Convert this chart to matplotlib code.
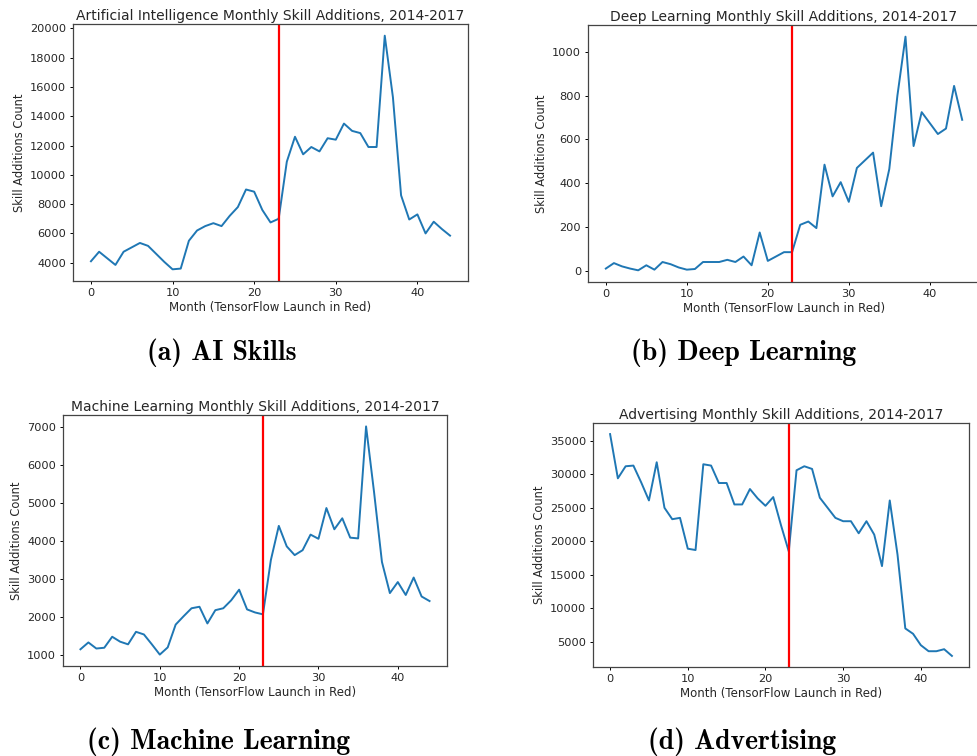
import matplotlib
matplotlib.use("Agg")
import matplotlib.pyplot as plt

# month index 0..44, TensorFlow launch at month 23
months = list(range(45))
LAUNCH = 23

ai_counts = [4100, 4750, 4300, 3850, 4750, 5050, 5350, 5150, 4600, 4050,
             3550, 3600, 5500, 6200, 6500, 6700, 6500, 7200, 7800, 9000,
             8850, 7600, 6750, 7000, 10900, 12600, 11400, 11900, 11600, 12500,
             12400, 13500, 13000, 12850, 11900, 11900, 19500, 15300, 8600, 6950,
             7300, 6000, 6800, 6300, 5850]

dl_counts = [10, 35, 20, 10, 2, 25, 5, 40, 30, 15,
             5, 8, 40, 40, 40, 50, 40, 65, 25, 175,
             45, 65, 85, 85, 210, 225, 195, 485, 340, 405,
             315, 470, 505, 540, 295, 465, 800, 1070, 570, 725,
             675, 625, 650, 845, 690]

ml_counts = [1150, 1330, 1170, 1190, 1480, 1350, 1280, 1610, 1540, 1280,
             1010, 1200, 1800, 2020, 2230, 2270, 1830, 2180, 2230, 2440,
             2720, 2200, 2120, 2070, 3500, 4400, 3860, 3630, 3760, 4170,
             4060, 4870, 4310, 4600, 4090, 4070, 7020, 5300, 3450, 2630,
             2920, 2580, 3040, 2540, 2420]

ad_counts = [36000, 29400, 31200, 31300, 28800, 26100, 31800, 25000, 23300, 23500,
             18900, 18700, 31500, 31300, 28700, 28700, 25500, 25500, 27800, 26400,
             25300, 26600, 22400, 18500, 30600, 31200, 30800, 26500, 25000, 23500,
             23000, 23000, 21200, 23000, 21000, 16300, 26100, 18000, 7000, 6200,
             4500, 3600, 3600, 3900, 2900]

titles = [
    "Artificial Intelligence Monthly Skill Additions, 2014-2017",
    "Deep Learning Monthly Skill Additions, 2014-2017",
    "Machine Learning Monthly Skill Additions, 2014-2017",
    "Advertising Monthly Skill Additions, 2014-2017",
]
captions = ["(a) AI Skills", "(b) Deep Learning",
            "(c) Machine Learning", "(d) Advertising"]
series = [ai_counts, dl_counts, ml_counts, ad_counts]

W, H = 977, 756
# axes boxes in pixels: left, top, right, bottom
boxes = [(73, 24, 468, 281), (588, 25, 980, 282),
         (63, 415, 447, 666), (593, 423, 969, 667)]
caption_pos = [(222, 353), (744, 353), (219, 742), (742, 742)]

TXT = "#262626"
plt.rcParams["font.family"] = "DejaVu Sans"

fig = plt.figure(figsize=(W / 100, H / 100), dpi=100)

for (l, t, r, b), title, counts in zip(boxes, titles, series):
    ax = fig.add_axes([l / W, 1 - b / H, (r - l) / W, (b - t) / H])
    ax.plot(months, counts, color="#1f77b4", linewidth=1.4)
    ax.axvline(LAUNCH, color="red", linewidth=1.6)
    ax.set_title(title, fontsize=10.0, color=TXT, pad=3)
    ax.set_xlabel("Month (TensorFlow Launch in Red)", fontsize=8.5, color=TXT, labelpad=2)
    ax.set_ylabel("Skill Additions Count", fontsize=8.3, color=TXT, labelpad=3)
    ax.set_xticks([0, 10, 20, 30, 40])
    ax.tick_params(labelsize=8.2, labelcolor=TXT, length=2.5, width=0.7, pad=2.5)
    for sp in ax.spines.values():
        sp.set_color("#444444")
        sp.set_linewidth(0.9)

for (cx, cy), cap in zip(caption_pos, captions):
    fig.text(cx / W, 1 - cy / H, cap, ha="center", va="center",
             fontsize=20, family="cmb10", color="black")

fig.savefig("out.png", dpi=100)
